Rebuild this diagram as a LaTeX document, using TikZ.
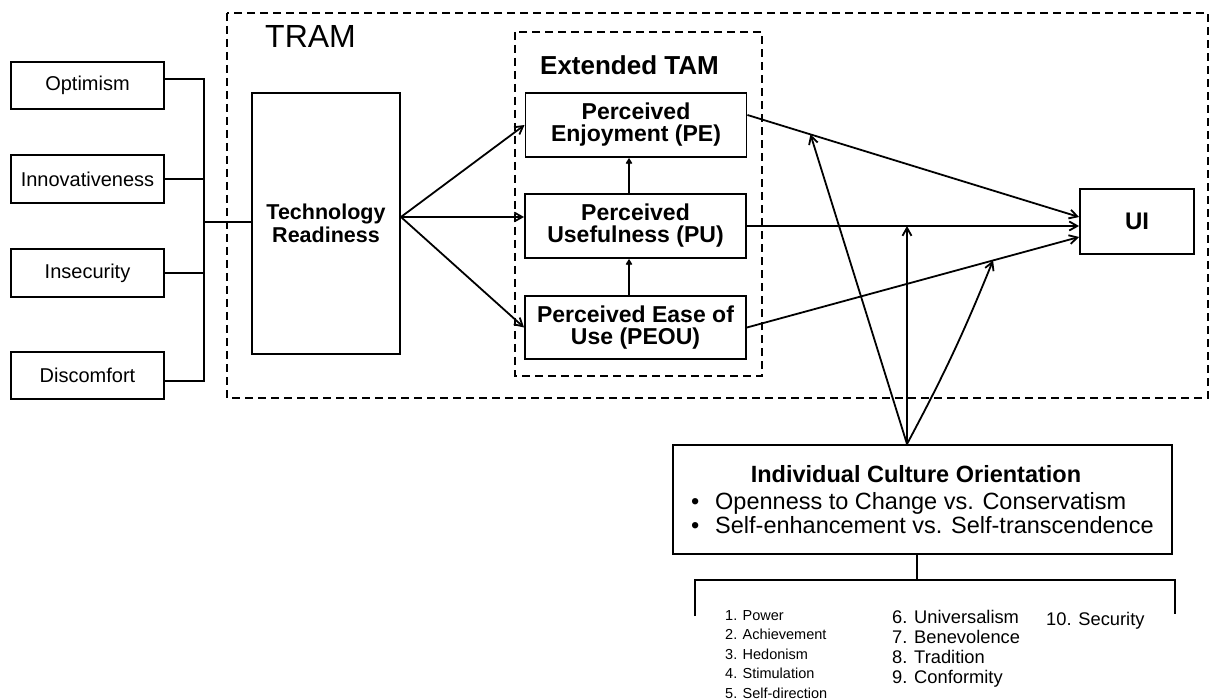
\documentclass[tikz,border=0pt]{standalone}
\usepackage{fontspec}
\setmainfont{Liberation Sans}
\usetikzlibrary{arrows.meta,calc}

\begin{document}
\begin{tikzpicture}[x=1pt,y=-1pt,
  box/.style={draw, line width=1.9pt, inner sep=0pt, align=center},
  frame/.style={draw, dash pattern=on 8pt off 5pt, line width=1.6pt},
  link/.style={line width=1.8pt, -{Straight Barb[length=8pt,width=9pt]}},
  smalllink/.style={line width=1.8pt, -{Straight Barb[length=4pt,width=5pt]}},
  plain/.style={line width=1.8pt},
  dimbox/.style={box, minimum width=153pt, font=\fontsize{20}{22}\selectfont},
  tambox/.style={box, minimum width=221pt, minimum height=64pt, font=\fontsize{23}{22}\selectfont\bfseries},
  txt/.style={inner sep=0pt, anchor=base west},
  listA/.style={txt, font=\fontsize{14.5}{17}\selectfont},
  listB/.style={txt, font=\fontsize{18.3}{20}\selectfont}]

\useasboundingbox (0,0) rectangle (1212,700);
\fill[white] (0,0) rectangle (1212,700);

% outer and inner dashed frames
\draw[frame] (227,13) rectangle (1208,398);
\draw[frame] (515,32) rectangle (762,376);
\node[txt, font=\fontsize{32}{36}\selectfont] (tramlabel) at (265,48) {TRAM};
\node[inner sep=0pt, anchor=base, font=\fontsize{26}{28}\selectfont\bfseries] (etamlabel) at (629.5,75) {Extended TAM};

% technology readiness dimensions
\node[dimbox, minimum height=47pt] (opt) at (87.5,85.5) {Optimism};
\node[dimbox, minimum height=48pt] (inn) at (87.5,179) {Innovativeness};
\node[dimbox, minimum height=48pt] (ins) at (87.5,273) {Insecurity};
\node[dimbox, minimum height=47pt] (dis) at (87.5,375.5) {Discomfort};

\node[box, minimum width=148pt, minimum height=261pt, font=\fontsize{21.5}{23}\selectfont\bfseries] (tech) at (326,223.5) {Technology\\Readiness};

% extended TAM constructs
\node[tambox] (pe) at (636,125) {Perceived\\Enjoyment (PE)};
\node[tambox] (pu) at (635.5,226) {Perceived\\Usefulness (PU)};
\node[tambox, minimum height=63pt] (peou) at (635.5,327.5) {Perceived Ease of\\Use (PEOU)};

\node[box, minimum width=114pt, minimum height=65pt, font=\fontsize{24}{26}\selectfont\bfseries] (ui) at (1137,221.5) {UI};

% culture orientation box
\node[box, minimum width=499pt, minimum height=109pt] (ico) at (922.5,499.5) {};
\node[inner sep=0pt, anchor=base, font=\fontsize{23.5}{26}\selectfont\bfseries] (icotitle) at (916,482) {Individual Culture Orientation};
\node[txt, font=\fontsize{23.5}{26}\selectfont] (bul1) at (691,509) {•};
\node[txt, font=\fontsize{23.5}{26}\selectfont] (dim1) at (715,509) {Openness to Change vs. Conservatism};
\node[txt, font=\fontsize{23.5}{26}\selectfont] (bul2) at (691,533) {•};
\node[txt, font=\fontsize{23.5}{26}\selectfont] (dim2) at (715,533) {Self-enhancement vs. Self-transcendence};

% value list
\foreach \t [count=\i] in {Power, Achievement, Hedonism, Stimulation, Self-direction}
  \node[listA] (va\i) at (725,{620+19.6*(\i-1)}) {\i. \t};
\foreach \t [count=\i from 6] in {Universalism, Benevolence, Tradition, Conformity}
  \node[listB] (vb\i) at (892,{623+20*(\i-6)}) {\i. \t};
\node[listB] (vc10) at (1046,625) {10. Security};

% bracket joining the dimensions
\coordinate (bx1) at (204,79);
\coordinate (bx4) at (204,381);
\coordinate (bj) at (204,222);
\draw[plain] ([yshift=6.5pt]opt.east) -- (bx1) -- (bx4) -- ([yshift=-5.5pt]dis.east);
\draw[plain] (inn.east) -- (inn.east -| bj);
\draw[plain] (ins.east) -- (ins.east -| bj);
\draw[plain] (bj) -- (bj -| tech.west);

% readiness to TAM
\coordinate (tr) at ([yshift=6.5pt]tech.east);
\draw[link] (tr) -- (pe.west);
\draw[link] (tr) -- (tr -| pu.west);
\draw[link] (tr) -- (peou.west);

\coordinate (v1) at ($(pu.north)+(-6.5,0)$);
\coordinate (v2) at ($(peou.north)+(-6.5,0)$);
\draw[smalllink] (v1) -- (v1 |- pe.south);
\draw[smalllink] (v2) -- (v2 |- pu.south);

% TAM to usage intention
\coordinate (pes) at ([yshift=10pt]pe.east);
\coordinate (ui1) at ([yshift=4.5pt]ui.west);
\coordinate (ui3) at ([yshift=-15.5pt]ui.west);
\draw[link] (pes) -- (ui1);
\draw[link] (pu.east) -- (pu.east -| ui.west);
\draw[link] (peou.east) -- (ui3);

% moderating effects of culture
\coordinate (cs) at ([xshift=-15.5pt]ico.north);
\coordinate (m1) at ($(pes)!0.19!(ui1)$);
\coordinate (m2) at (cs |- pu.east);
\coordinate (m3) at ($(peou.east)!0.741!(ui3)$);
\draw[link] (cs) -- (m1);
\draw[link] (cs) -- (m2);
\draw[link] (cs) to[bend right=3] (m3);

% bracket below the culture box
\coordinate (bt) at ([xshift=-5.5pt]ico.south);
\coordinate (bk) at (917,580);
\coordinate (bl) at (695,580);
\coordinate (br) at (1175,580);
\draw[plain] (bt) -- (bk);
\draw[plain] ($(bl)+(0,36)$) -- (bl) -- (br) -- ($(br)+(0,34)$);

\end{tikzpicture}
\end{document}
